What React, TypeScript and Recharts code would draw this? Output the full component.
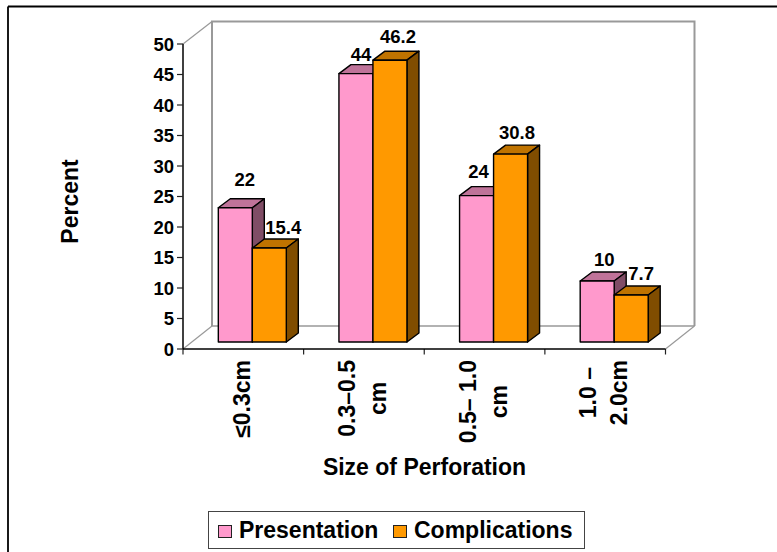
import React from "react";
import { BarChart, Bar, XAxis, YAxis, Legend, LabelList, usePlotArea } from "recharts";

const categories = ["≤0.3cm", "0.3–0.5\ncm", "0.5– 1.0\ncm", "1.0 –\n2.0cm"];
const presentation = [22, 44, 24, 10];
const complications = [15.4, 46.2, 30.8, 7.7];
const yTicks = [0, 5, 10, 15, 20, 25, 30, 35, 40, 45, 50];

const rows = categories.map((category, i) => ({
  category,
  Presentation: presentation[i],
  Complications: complications[i],
}));

const FONT = '"Liberation Sans", Arial, sans-serif';
const CHART_W = 777;
const CHART_H = 552;

// Projection of the box: full floor depth, and where the bars stand inside it.
const FLOOR_DX = 29;
const FLOOR_DY = 23;
const BAR_SHIFT_X = 9.5;
const BAR_SHIFT_Y = -7;
const BAR_DX = 12;
const BAR_DY = 9;

// Hand placement of the value labels relative to each bar's front top centre.
const presentationLabelNudge = [
  [9.5, -28],
  [5, -19],
  [2, -24],
  [7, -22],
];
const complicationsLabelNudge = [
  [14, -21],
  [8, -24],
  [6.5, -22],
  [10, -22],
];

function Box3D(props: any) {
  const { x, y, width: w, height: h, front, top, side } = props;
  const fx = x + BAR_SHIFT_X;
  const fy = y + BAR_SHIFT_Y;
  const stroke = { stroke: "#000", strokeWidth: 1.4, strokeLinejoin: "round" as const };
  return (
    <g>
      <path
        d={`M${fx},${fy}L${fx + BAR_DX},${fy - BAR_DY}L${fx + w + BAR_DX},${fy - BAR_DY}L${fx + w},${fy}Z`}
        fill={top}
        {...stroke}
      />
      <path
        d={`M${fx + w},${fy}L${fx + w + BAR_DX},${fy - BAR_DY}L${fx + w + BAR_DX},${fy + h - BAR_DY}L${fx + w},${fy + h}Z`}
        fill={side}
        {...stroke}
      />
      <rect x={fx} y={fy} width={w} height={h} fill={front} {...stroke} />
    </g>
  );
}

function Walls() {
  const area = usePlotArea();
  if (!area) return null;
  const { x, y, width, height } = area;
  const right = x + width;
  const bottom = y + height;
  const gray = { stroke: "#999", fill: "none" };
  const band = width / categories.length;
  return (
    <g>
      {/* outer frame: only the left and top edges fall inside the page */}
      <line x1={8} y1={6.5} x2={CHART_W} y2={6.5} stroke="#000" strokeWidth={1.8} />
      <line x1={8} y1={6.5} x2={8} y2={CHART_H} stroke="#000" strokeWidth={1.8} />
      <path
        d={`M${x + FLOOR_DX},${bottom - FLOOR_DY}V${y - FLOOR_DY + 0.5}H${right + FLOOR_DX}V${bottom - FLOOR_DY}`}
        strokeWidth={2}
        {...gray}
      />
      <path d={`M${x + FLOOR_DX},${bottom - FLOOR_DY}H${right + FLOOR_DX}`} strokeWidth={1.6} {...gray} />
      <path d={`M${x},${y}L${x + FLOOR_DX},${y - FLOOR_DY + 0.5}`} strokeWidth={1.2} {...gray} />
      <path d={`M${x},${bottom}L${x + FLOOR_DX},${bottom - FLOOR_DY}`} strokeWidth={1.2} {...gray} />
      <path d={`M${right},${bottom}L${right + FLOOR_DX},${bottom - FLOOR_DY}`} strokeWidth={1.2} {...gray} />
      {/* category ticks sit on the band boundaries, not the band centres */}
      {[0, 1, 2, 3, 4].map((i) => (
        <line
          key={i}
          x1={x + i * band}
          x2={x + i * band}
          y1={bottom}
          y2={bottom + 5.5}
          stroke="#222"
          strokeWidth={1.2}
        />
      ))}
      <text x={424.5} y={475} textAnchor="middle" fontFamily={FONT} fontWeight="bold" fontSize={23} fill="#000">
        Size of Perforation
      </text>
      <text
        x={78}
        y={201.5}
        transform="rotate(-90 78 201.5)"
        textAnchor="middle"
        fontFamily={FONT}
        fontWeight="bold"
        fontSize={23}
        fill="#000"
      >
        Percent
      </text>
    </g>
  );
}

let measureCtx: CanvasRenderingContext2D | null = null;
function textWidth(text: string) {
  if (!measureCtx) measureCtx = document.createElement("canvas").getContext("2d");
  measureCtx!.font = `bold 23px "Liberation Sans"`;
  return measureCtx!.measureText(text).width;
}

// Category labels read bottom-to-top, wrapped in up to two lines, hung from the axis.
function CategoryTick(props: any) {
  const { x, y, payload } = props;
  const lines: string[] = String(payload.value).split("\n");
  const longest = Math.max(...lines.map(textWidth));
  const cy = y + longest / 2;
  const gap = 31;
  const start = x - 1.5 - ((lines.length - 1) * gap) / 2;
  return (
    <g>
      {lines.map((line, i) => {
        const bx = start + i * gap + 8.2;
        return (
          <text
            key={line}
            x={bx}
            y={cy}
            transform={`rotate(-90 ${bx} ${cy})`}
            textAnchor="middle"
            fontFamily={FONT}
            fontWeight="bold"
            fontSize={23}
            fill="#000"
          >
            {line}
          </text>
        );
      })}
    </g>
  );
}

function valueLabel(nudges: number[][]) {
  return (props: any) => {
    const { x, y, width, value, index } = props;
    const [nx, ny] = nudges[index];
    return (
      <text
        x={x + width / 2 + BAR_SHIFT_X + nx}
        y={y + BAR_SHIFT_Y + ny + 6.5}
        textAnchor="middle"
        fontFamily={FONT}
        fontWeight="bold"
        fontSize={18.5}
        fill="#000"
      >
        {value}
      </text>
    );
  };
}

function LegendBox(props: any) {
  const items = props.payload || [];
  return (
    <div
      style={{
        width: 377,
        height: 38,
        boxSizing: "border-box",
        border: "1.5px solid #444",
        background: "#fff",
        position: "relative",
        fontFamily: FONT,
        fontWeight: "bold",
        fontSize: 23,
        color: "#000",
      }}
    >
      {items.map((item: any, i: number) => (
        <React.Fragment key={item.value}>
          <span
            style={{
              position: "absolute",
              left: i === 0 ? 9 : 184,
              top: 12.5,
              width: 14,
              height: 13,
              boxSizing: "border-box",
              border: "1.5px solid #222",
              background: item.payload?.fill ?? item.color,
            }}
          />
          <span
            style={{
              position: "absolute",
              left: i === 0 ? 30 : 205,
              top: 5,
              lineHeight: "26px",
              whiteSpace: "nowrap",
            }}
          >
            {item.value}
          </span>
        </React.Fragment>
      ))}
    </div>
  );
}

export default function App() {
  return (
    <div style={{ position: "absolute", left: 0, top: 0, width: CHART_W, height: CHART_H }}>
      <BarChart
        width={CHART_W}
        height={CHART_H}
        data={rows}
        margin={{ top: 44, left: 182, right: 111.5, bottom: 202 }}
        barCategoryGap="21.4%"
        barGap={0}
      >
        <Walls />
        <XAxis
          dataKey="category"
          height={1}
          interval={0}
          tickSize={5}
          tickMargin={6}
          tick={CategoryTick}
          axisLine={{ stroke: "#000", strokeWidth: 1.5 }}
          tickLine={false}
        />
        <YAxis
          width={1}
          domain={[0, 50]}
          ticks={yTicks}
          interval={0}
          tickSize={6}
          tickMargin={3}
          tick={{ fontFamily: FONT, fontWeight: "bold", fontSize: 18.5, fill: "#000" }}
          axisLine={{ stroke: "#000", strokeWidth: 1.5 }}
          tickLine={{ stroke: "#222", strokeWidth: 1.2 }}
        />
        <Legend
          layout="horizontal"
          align="center"
          verticalAlign="middle"
          itemSorter={null}
          content={LegendBox}
          wrapperStyle={{ left: 208, top: 511, width: 377, height: 38 }}
        />
        <Bar
          dataKey="Presentation"
          fill="#FF99CC"
          isAnimationActive={false}
          shape={(p: any) => <Box3D {...p} front="#FF99CC" top="#BF7399" side="#804D66" />}
        >
          <LabelList dataKey="Presentation" content={valueLabel(presentationLabelNudge)} />
        </Bar>
        <Bar
          dataKey="Complications"
          fill="#FF9900"
          isAnimationActive={false}
          shape={(p: any) => <Box3D {...p} front="#FF9900" top="#BF7300" side="#804D00" />}
        >
          <LabelList dataKey="Complications" content={valueLabel(complicationsLabelNudge)} />
        </Bar>
      </BarChart>
    </div>
  );
}
